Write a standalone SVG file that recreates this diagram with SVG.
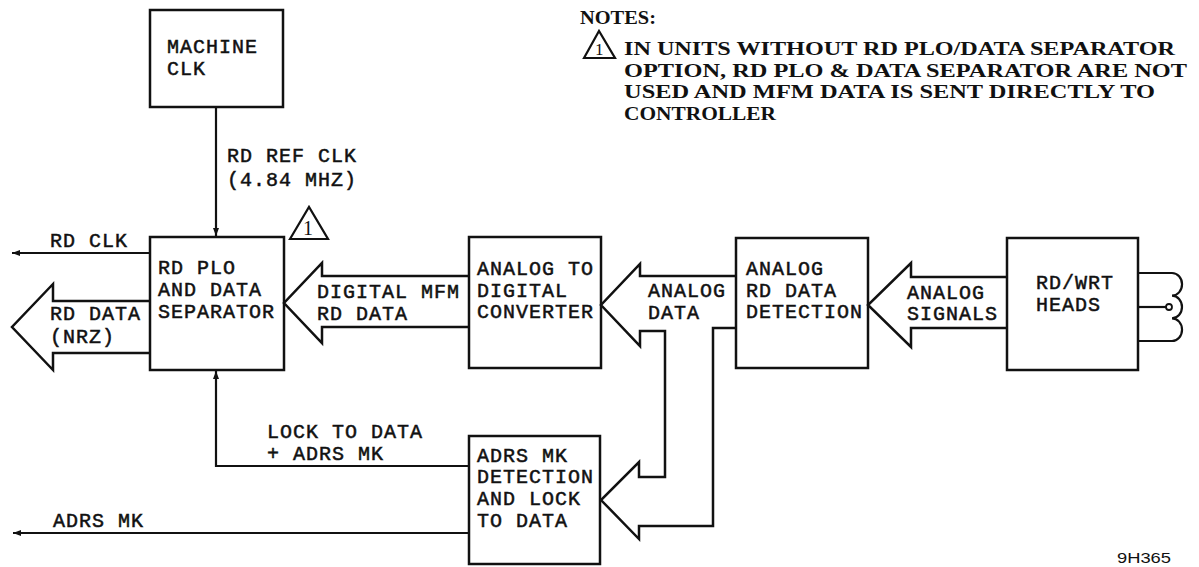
<svg xmlns="http://www.w3.org/2000/svg" width="1199" height="567" viewBox="0 0 1199 567">
<style>
.box{fill:none;stroke:#111;stroke-width:2.5}
.ln{fill:none;stroke:#111;stroke-width:2.5;stroke-linejoin:miter}
.thin{fill:none;stroke:#111;stroke-width:2.2}
.t{font-family:"Liberation Mono","Courier New",monospace;font-size:20px;letter-spacing:1px;fill:#111;stroke:#111;stroke-width:0.5}
.n{font-family:"Liberation Serif","Times New Roman",serif;font-size:19px;font-weight:bold;fill:#111}
.one{font-family:"Liberation Serif","Times New Roman",serif;fill:#111}
.s{font-family:"Liberation Sans",Arial,sans-serif;font-size:15px;fill:#111}
</style>
<defs>
<marker id="ah" markerUnits="userSpaceOnUse" markerWidth="9" markerHeight="7" refX="8" refY="3" orient="auto">
<path d="M0,0 L8,3 L0,6 z" fill="#111"/>
</marker>
</defs>
<rect width="1199" height="567" fill="#fff"/>

<g id="machine-clk">
<rect class="box" x="150" y="10" width="133" height="97"/>
<text class="t" x="167" y="53">MACHINE</text>
<text class="t" x="167" y="75">CLK</text>
</g>

<g id="rd-plo">
<rect class="box" x="150" y="237" width="134" height="133"/>
<text class="t" x="158" y="274">RD PLO</text>
<text class="t" x="158" y="296">AND DATA</text>
<text class="t" x="158" y="318">SEPARATOR</text>
<path class="thin" d="M290,239 L309,207 L328,239 Z"/>
<text class="one" x="303" y="235" font-size="20">1</text>
</g>

<g id="adc">
<rect class="box" x="469" y="237" width="132" height="131"/>
<text class="t" x="477" y="275">ANALOG TO</text>
<text class="t" x="477" y="297">DIGITAL</text>
<text class="t" x="477" y="318">CONVERTER</text>
</g>

<g id="detection">
<rect class="box" x="736" y="238" width="132" height="130"/>
<text class="t" x="746" y="275">ANALOG</text>
<text class="t" x="746" y="297">RD DATA</text>
<text class="t" x="746" y="318">DETECTION</text>
</g>

<g id="heads">
<rect class="box" x="1007" y="238" width="131" height="132"/>
<text class="t" x="1036" y="289">RD/WRT</text>
<text class="t" x="1036" y="311">HEADS</text>
<path class="thin" d="M1138,273 H1172 A10,11.3 0 0 1 1172,295.7 A10,11.3 0 0 1 1172,318.3 A10,11.3 0 0 1 1172,341 H1138"/>
<path class="thin" d="M1138,307 H1166"/>
<circle cx="1169" cy="307" r="3" fill="none" stroke="#111" stroke-width="1.8"/>
</g>

<g id="adrs-mk">
<rect class="box" x="469" y="436" width="131" height="128"/>
<text class="t" x="477" y="462">ADRS MK</text>
<text class="t" x="477" y="483">DETECTION</text>
<text class="t" x="477" y="505">AND LOCK</text>
<text class="t" x="477" y="527">TO DATA</text>
</g>

<g id="connectors">
<path class="thin" d="M216,107 V236" marker-end="url(#ah)"/>
<path class="thin" d="M469,466 H216 V371" marker-end="url(#ah)"/>
<path class="thin" d="M150,253 H12" marker-end="url(#ah)"/>
<path class="thin" d="M469,533 H13" marker-end="url(#ah)"/>
<path class="ln" d="M150,301 H53 V284 L12,327 L53,370 V353 H150"/>
<path class="ln" d="M469,276 H322 V263 L284,303 L322,343 V327 H469"/>
<path class="ln" d="M736,276 H640 V264 L601,305 L640,346 V331 H665 V477 H639 V462 L601,500 L639,539 V526 H713 V328 H736"/>
<path class="ln" d="M1007,277 H911 V263 L868,305 L911,347 V328 H1007"/>
</g>

<g id="labels">
<text class="t" x="227" y="162">RD REF CLK</text>
<text class="t" x="227" y="186">(4.84 MHZ)</text>
<text class="t" x="50" y="247">RD CLK</text>
<text class="t" x="50" y="320">RD DATA</text>
<text class="t" x="50" y="343">(NRZ)</text>
<text class="t" x="317" y="298">DIGITAL MFM</text>
<text class="t" x="317" y="320">RD DATA</text>
<text class="t" x="648" y="297">ANALOG</text>
<text class="t" x="648" y="319">DATA</text>
<text class="t" x="907" y="299">ANALOG</text>
<text class="t" x="907" y="320">SIGNALS</text>
<text class="t" x="267" y="438">LOCK TO DATA</text>
<text class="t" x="267" y="460">+ ADRS MK</text>
<text class="t" x="53" y="527">ADRS MK</text>
</g>

<g id="notes">
<text class="n" x="580" y="24" textLength="76" lengthAdjust="spacingAndGlyphs">NOTES:</text>
<path class="thin" d="M584,58 L599,31 L615,58 Z" stroke-width="1.8"/>
<text class="one" x="595" y="55" font-size="17">1</text>
<text class="n" x="624" y="55" textLength="551" lengthAdjust="spacingAndGlyphs">IN UNITS WITHOUT RD PLO/DATA SEPARATOR</text>
<text class="n" x="624" y="77" textLength="563" lengthAdjust="spacingAndGlyphs">OPTION, RD PLO &amp; DATA SEPARATOR ARE NOT</text>
<text class="n" x="624" y="98" textLength="531" lengthAdjust="spacingAndGlyphs">USED AND MFM DATA IS SENT DIRECTLY TO</text>
<text class="n" x="624" y="120" textLength="152" lengthAdjust="spacingAndGlyphs">CONTROLLER</text>
</g>

<text class="s" x="1117" y="563" textLength="54" lengthAdjust="spacingAndGlyphs">9H365</text>
</svg>
